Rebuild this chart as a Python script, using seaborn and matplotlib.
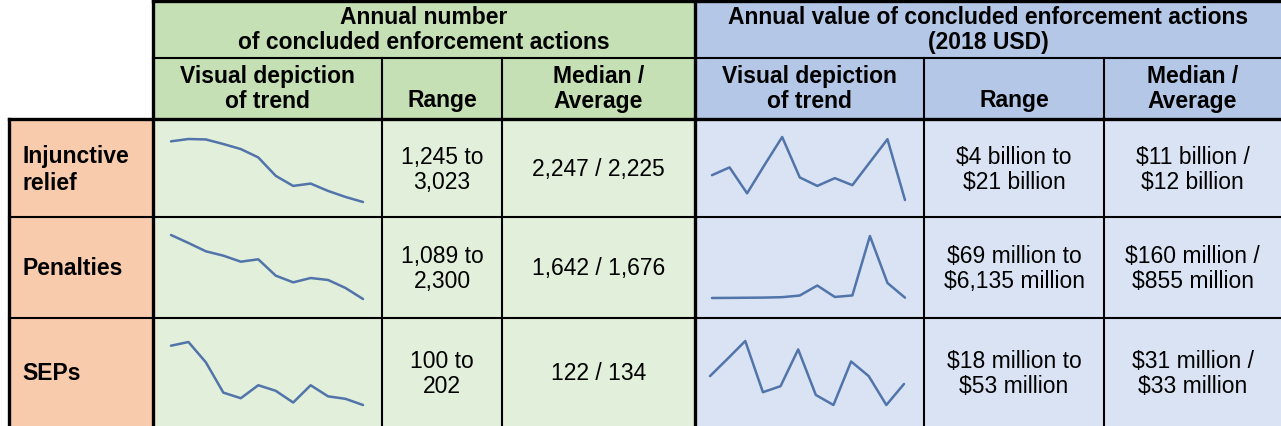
import matplotlib
matplotlib.use("Agg")
import matplotlib.pyplot as plt
import seaborn as sns
import pandas as pd
from matplotlib.patches import Rectangle

sns.set_theme(style="white")
plt.rcParams['font.family'] = ['Liberation Sans', 'DejaVu Sans']
plt.rcParams['text.color'] = 'black'

# ---------------- data ----------------
years = list(range(2007, 2019))
row_labels = ["Injunctive\nrelief", "Penalties", "SEPs"]

num_injunctive = [2957, 3023, 3010, 2881, 2739, 2503, 1983, 1699, 1765, 1557, 1387, 1245]
num_penalties = [2300, 2149, 1991, 1909, 1795, 1840, 1531, 1404, 1486, 1449, 1297, 1089]
num_seps = [196, 202, 169, 120, 111, 132, 123, 104, 132, 114, 110, 100]

val_injunctive = [10.7, 12.8, 5.8, 13.5, 21.0, 10.1, 7.8, 9.9, 8.0, 14.2, 20.4, 4.0]   # billion
val_penalties = [69, 80, 95, 110, 150, 310, 1290, 170, 320, 6135, 1540, 100]          # million
val_seps = [33.8, 43.3, 53.0, 25.0, 28.3, 48.4, 23.5, 18.0, 41.8, 33.8, 18.0, 29.5]   # million

num_range = ["1,245 to\n3,023", "1,089 to\n2,300", "100 to\n202"]
num_median_avg = ["2,247 / 2,225", "1,642 / 1,676", "122 / 134"]
val_range = ["$4 billion to\n$21 billion", "$69 million to\n$6,135 million", "$18 million to\n$53 million"]
val_median_avg = ["$11 billion /\n$12 billion", "$160 million /\n$855 million", "$31 million /\n$33 million"]

group_titles = ["Annual number\nof concluded enforcement actions",
                "Annual value of concluded enforcement actions\n(2018 USD)"]
sub_headers = ["Visual depiction\nof trend", "Range", "Median /\nAverage"]

# ---------------- layout (pixels) ----------------
W, H = 1281, 427
GREEN_H, GREEN_D = "#C5E0B4", "#E2EFDA"
BLUE_H, BLUE_D = "#B4C7E7", "#DAE3F3"
ORANGE = "#F8CBAD"
LINE_C = "#5174AA"

xl, xg0, xg1, xg2, xb0, xb1, xb2, xr = 9, 153, 382, 502, 695, 924, 1104, 1281
y_top, y_mid, y_hdr = 2, 59, 120
row_edges = [120, 218, 319, 427]

fig = plt.figure(figsize=(W / 100, H / 100), dpi=100)
ax = fig.add_axes([0, 0, 1, 1])
ax.set_xlim(0, W)
ax.set_ylim(H, 0)
ax.axis("off")

def rect(x0, y0, x1, y1, c):
    ax.add_patch(Rectangle((x0, y0), x1 - x0, y1 - y0, facecolor=c, edgecolor="none", zorder=0))

rect(xg0, 0, xb0, y_hdr, GREEN_H)
rect(xg0, y_hdr, xb0, H, GREEN_D)
rect(xb0, 0, xr, y_hdr, BLUE_H)
rect(xb0, y_hdr, xr, H, BLUE_D)
rect(xl, y_hdr, xg0, H, ORANGE)

def hl(y, x0, x1, lw):
    ax.plot([x0, x1], [y, y], color="black", lw=lw, solid_capstyle="projecting", zorder=5)

def vl(x, y0, y1, lw):
    ax.plot([x, x], [y0, y1], color="black", lw=lw, solid_capstyle="projecting", zorder=5)

thick, thin = 2.4, 1.5
hl(y_top, xg0, xr, thick)
hl(y_mid, xg0, xr, thin)
hl(y_hdr, xl, xr, thick)
hl(row_edges[1], xl, xr, thin)
hl(row_edges[2], xl, xr, thin)
vl(xl, y_hdr, H, thick)
vl(xg0, 0, H, thick)
vl(xb0, 0, H, thick)
for x in (xg1, xg2, xb1, xb2):
    vl(x, y_mid, H, thin)

FS = 16.5
hkw = dict(ha="center", va="center", fontsize=FS, color="black", linespacing=1.15,
           fontweight="bold", zorder=6)
dkw = dict(ha="center", va="center", fontsize=FS, color="black", linespacing=1.12, zorder=6)

ax.text((xg0 + xb0) / 2, 30, group_titles[0], **hkw)
ax.text((xb0 + xr) / 2, 30, group_titles[1], **hkw)

for (a, b, c, d) in [(xg0, xg1, xg2, xb0), (xb0, xb1, xb2, xr)]:
    ax.text((a + b) / 2, 89, sub_headers[0], **hkw)
    ax.text((b + c) / 2, 101, sub_headers[1], **hkw)
    ax.text((c + d) / 2, 89, sub_headers[2], **hkw)

row_centers = [170, 269, 374]
for i, yc in enumerate(row_centers):
    ax.text(22, yc, row_labels[i], ha="left", va="center", fontsize=FS, fontweight="bold",
            color="black", linespacing=1.25, zorder=6)
    ax.text((xg1 + xg2) / 2, yc, num_range[i], **dkw)
    ax.text((xg2 + xb0) / 2, yc, num_median_avg[i], **dkw)
    ax.text((xb1 + xb2) / 2, yc, val_range[i], **dkw)
    ax.text((xb2 + xr) / 2, yc, val_median_avg[i], **dkw)

# ---------------- sparklines ----------------
spark_series = [
    (num_injunctive, (171, 363, 140, 203)),
    (num_penalties, (171, 363, 236, 300)),
    (num_seps, (171, 363, 343, 406)),
    (val_injunctive, (712, 905, 138, 201)),
    (val_penalties, (712, 905, 237, 299)),
    (val_seps, (710, 904, 342, 406)),
]

for vals, (x0, x1, y0, y1) in spark_series:
    sax = fig.add_axes([x0 / W, 1 - y1 / H, (x1 - x0) / W, (y1 - y0) / H])
    df = pd.DataFrame({"year": years, "value": vals})
    sns.lineplot(data=df, x="year", y="value", ax=sax, color=LINE_C, lw=1.8)
    sax.set_xlim(min(years), max(years))
    sax.set_ylim(min(vals), max(vals))
    for ln in sax.lines:
        ln.set_clip_on(False)
    sax.axis("off")
    sax.patch.set_alpha(0)

fig.savefig("out.png", dpi=100)
